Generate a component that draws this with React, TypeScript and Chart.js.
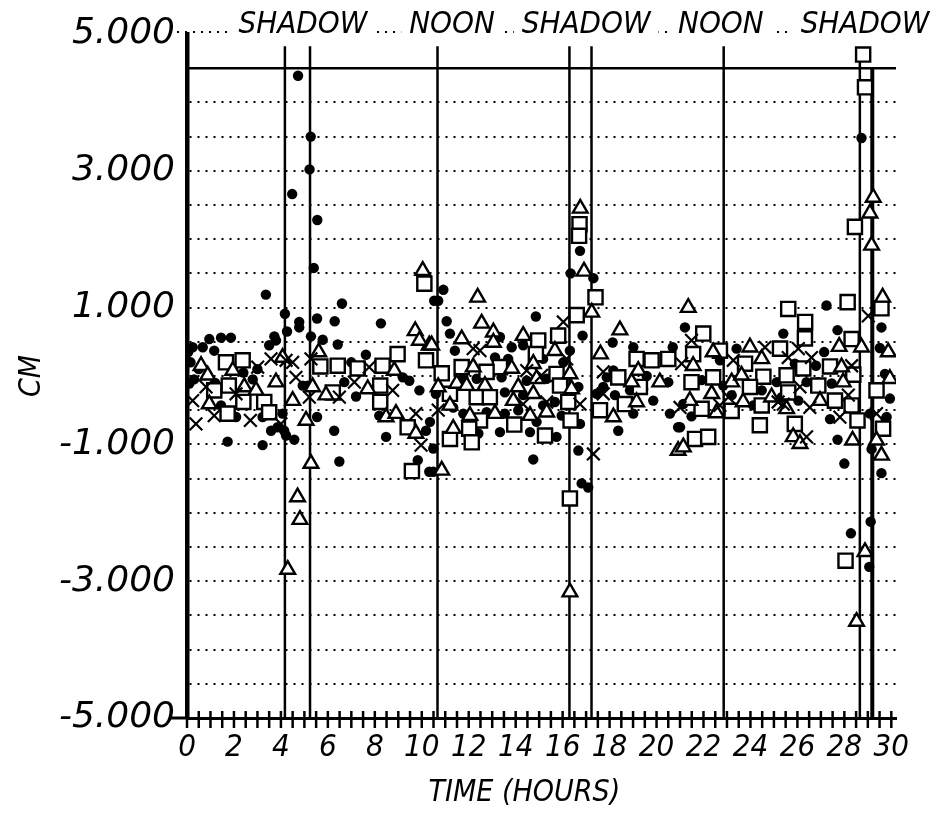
import React, { useEffect, useRef } from 'react';
import { Chart, registerables } from 'chart.js';

Chart.register(...registerables);

const FONT = "'DejaVu Sans Condensed', 'DejaVu Sans', sans-serif";
const WIDE_FONT = "'DejaVu Sans', sans-serif";

// ---- data ----
const yTickValues = [5, 3, 1, -1, -3, -5];
const xTickLabels = [0, 2, 4, 6, 8, 10, 12, 14, 16, 18, 20, 22, 24, 26, 28, 30];
const eventTimes = [4.17, 5.24, 10.67, 16.29, 17.23, 22.86, 28.66, 29.19];
const eventTops = [4.82, 4.82, 4.82, 4.82, 4.82, 4.82, 4.8, 4.5];
const headerLabels = ['SHADOW', 'NOON', 'SHADOW', 'NOON', 'SHADOW'];
const headerTimes = [4.94, 11.29, 17.0, 22.74, 28.88];
const limitLevel = 4.5;

const dots: [number, number][] = [
  [4.73, 4.39], [5.27, 3.5], [5.22, 3.02], [4.48, 2.66], [5.55, 2.28], [5.4, 1.58], [3.36, 1.19], [6.6, 1.06],
  [4.17, 0.91], [5.54, 0.84], [4.78, 0.79], [4.78, 0.71], [6.29, 0.8], [8.26, 0.77], [4.26, 0.65], [3.72, 0.58],
  [3.79, 0.52], [5.28, 0.58], [5.78, 0.53], [6.42, 0.46], [1.87, 0.56], [1.45, 0.56], [0.95, 0.54], [7.62, 0.31],
  [0.24, 0.42], [0.67, 0.42], [1.16, 0.37], [3.5, 0.45], [0.1, -0.11], [1.45, -0.43], [2.09, -0.6], [3.22, -0.6],
  [1.73, -0.96], [3.22, -1.01], [3.58, -0.8], [3.86, -0.75], [4.14, -0.8], [4.22, -0.87], [4.57, -0.93], [4.07, -0.55],
  [5.54, -0.6], [6.27, -0.8], [6.49, -1.25], [5.14, -0.14], [4.93, -0.14], [6.7, -0.09], [8.48, -0.89], [8.19, -0.58],
  [9.19, -0.02], [9.47, -0.07], [9.83, -1.23], [10.32, -1.4], [10.18, -0.8], [10.53, 1.1], [9.9, -0.21],
  [0.05, 0.35], [0.15, 0.2], [0.3, -0.05], [0.5, 0.1], [2.4, 0.05], [2.8, -0.05], [3.0, 0.1], [7.2, -0.3],
  [7.0, 0.2], [8.0, -0.2], [1.2, -0.1],
  [16.74, 1.83], [16.34, 1.5], [17.31, 1.43], [10.92, 1.26], [10.7, 1.1], [14.86, 0.87], [11.06, 0.8], [11.2, 0.62],
  [16.85, 0.59], [18.13, 0.49], [19.01, 0.42], [20.69, 0.42], [11.41, 0.37], [13.33, 0.57], [13.83, 0.42], [14.32, 0.45],
  [16.31, 0.37], [13.12, 0.27], [13.68, 0.25], [15.17, 0.25], [16.03, 0.2], [11.77, -0.02], [12.34, -0.04], [13.4, -0.02],
  [14.47, -0.07], [15.32, -0.04], [17.88, -0.02], [18.16, 0.08], [19.58, 0], [20.5, -0.09], [10.6, -0.26], [13.54, -0.24],
  [14.32, -0.28], [15.67, -0.38], [16.67, -0.16], [17.45, -0.26], [17.73, -0.16], [18.23, -0.28], [18.87, -0.21], [19.43, -0.19],
  [19.86, -0.36], [11.34, -0.46], [11.77, -0.55], [12.76, -0.53], [13.54, -0.55], [14.11, -0.5], [14.89, -0.67], [15.17, -0.43],
  [15.96, -0.58], [19.01, -0.55], [20.57, -0.55], [10.35, -0.67], [12.41, -0.84], [13.33, -0.82], [14.61, -0.82], [15.74, -0.89],
  [16.74, -0.7], [18.37, -0.8], [20.92, -0.75], [10.49, -1.06], [14.75, -1.22], [16.67, -1.09], [10.49, -1.4], [16.81, -1.57],
  [17.09, -1.63],
  [27.24, 1.03], [21.21, 0.71], [25.4, 0.62], [27.71, 0.67], [23.41, 0.4], [27.14, 0.35], [29.51, 0.41], [29.58, 0.71],
  [25.89, 0.18], [26.79, 0.15], [22.7, 0.23], [21.92, -0.06], [22.84, -0.14], [29.73, 0.03], [24.48, -0.21], [25.12, -0.09],
  [26.39, -0.09], [26.89, -0.09], [27.46, -0.11], [23.2, -0.28], [21.14, -0.41], [25.33, -0.31], [26.04, -0.36], [29.94, -0.33],
  [21.49, -0.59], [21.0, -0.75], [27.39, -0.63], [29.09, -0.55], [29.8, -0.6], [27.71, -0.93], [29.16, -1.07], [28.0, -1.28],
  [29.58, -1.42], [24.12, -0.43],
  [28.73, 3.48], [29.12, -2.13], [28.28, -2.3], [29.06, -2.79], [29.76, -0.63],
];

const squares: [number, number][] = [
  [1.66, 0.2], [2.37, 0.23], [1.16, -0.21], [1.78, -0.14], [2.4, -0.38], [3.29, -0.38], [1.73, -0.55], [3.5, -0.53],
  [5.68, 0.14], [6.42, 0.15], [7.27, 0.11], [8.33, 0.15], [8.97, 0.32], [6.21, -0.24], [8.23, -0.14], [8.23, -0.38],
  [9.4, -0.75], [10.11, 1.35], [10.18, 0.23], [9.58, -1.39],
  [16.72, 2.22], [16.7, 2.05], [17.4, 1.15], [16.6, 0.89], [15.81, 0.59], [14.96, 0.52], [14.86, 0.32], [13.33, 0.13],
  [12.76, 0.06], [11.7, 0.13], [10.85, 0.04], [15.74, 0.03], [15.89, -0.14], [12.34, -0.31], [12.9, -0.31], [11.2, -0.26],
  [16.24, -0.38], [16.34, -0.65], [17.59, -0.5], [18.65, -0.41], [19.29, -0.16], [18.37, -0.02], [19.15, 0.25], [19.79, 0.23],
  [20.5, 0.25], [12.48, -0.65], [12.02, -0.77], [11.2, -0.92], [12.13, -0.97], [13.94, -0.71], [15.25, -0.87], [16.31, -1.79],
  [25.61, 0.98], [28.14, 1.08], [26.33, 0.79], [26.32, 0.55], [21.99, 0.62], [28.31, 0.54], [29.58, 0.99], [22.7, 0.37],
  [25.26, 0.4], [21.56, 0.32], [23.77, 0.18], [26.25, 0.11], [27.39, 0.14], [28.38, 0.02], [21.49, -0.09], [22.41, -0.02],
  [24.55, -0.01], [25.54, 0.01], [26.89, -0.14], [23.98, -0.16], [29.37, -0.21], [25.61, -0.24], [27.6, -0.36], [28.31, -0.43],
  [21.92, -0.48], [23.2, -0.51], [24.48, -0.43], [28.56, -0.65], [29.65, -0.77], [24.4, -0.72], [25.89, -0.7], [21.64, -0.92],
  [22.2, -0.89],
  [28.8, 4.7], [28.88, 4.22], [28.45, 2.18], [28.05, -2.7],
];

const triangles: [number, number][] = [
  [10.04, 1.54], [9.72, 0.66], [10.32, 0.45], [9.9, 0.52], [5.61, 0.35], [4.07, 0.27], [0.6, 0.15], [0.88, 0.01],
  [1.95, 0.08], [2.44, -0.16], [2.94, -0.21], [0.95, -0.41], [4.5, -0.36], [3.79, -0.09], [5.35, -0.16], [5.92, -0.28],
  [5.07, -0.65], [7.7, -0.19], [8.48, -0.6], [8.9, -0.55], [8.83, 0.08], [9.75, -0.84], [5.28, -1.28], [4.71, -1.77],
  [4.81, -2.1], [4.29, -2.83],
  [16.75, 2.45], [16.91, 1.53], [12.38, 1.15], [12.55, 0.77], [18.44, 0.67], [13.05, 0.64], [13.05, 0.49], [11.7, 0.54],
  [14.32, 0.59], [10.42, 0.45], [17.24, 0.93], [17.61, 0.32], [15.67, 0.37], [12.19, 0.13], [11.49, -0.11], [11.91, -0.14],
  [13.83, 0.11], [14.75, 0.18], [14.89, -0.04], [16.31, 0.03], [19.22, 0.08], [18.94, -0.09], [20.14, -0.09], [10.7, -0.16],
  [14.11, -0.16], [12.69, -0.14], [13.9, -0.36], [14.75, -0.26], [16.38, -0.19], [11.2, -0.43], [13.12, -0.55], [12.05, -0.58],
  [14.61, -0.58], [15.32, -0.53], [18.16, -0.6], [19.15, -0.38], [11.34, -0.77], [10.85, -1.38], [20.92, -1.09], [16.31, -3.16],
  [21.35, 1.0], [29.63, 1.15], [23.98, 0.42], [24.48, 0.25], [27.78, 0.43], [28.73, 0.42], [29.87, 0.35], [29.94, -0.04],
  [21.56, 0.15], [22.41, 0.35], [27.88, 0.13], [27.95, -0.09], [23.2, -0.09], [23.62, 0.01], [22.35, -0.26], [23.69, -0.38],
  [24.9, -0.31], [25.54, -0.48], [26.96, -0.36], [21.42, -0.36], [22.55, -0.54], [25.82, -0.89], [26.11, -0.99], [28.35, -0.94],
  [29.37, -0.94], [29.58, -1.16], [21.14, -1.04],
  [29.23, 2.61], [29.09, 2.38], [29.16, 1.91], [28.88, -2.57], [28.52, -3.59],
];

const crosses: [number, number][] = [
  [0.38, -0.7], [1.16, -0.58], [2.7, -0.65], [0.24, -0.36], [0.81, -0.16], [3.58, 0.25], [3.01, 0.13], [4.22, 0.23],
  [4.5, 0.2], [5.28, 0.25], [4.64, -0.02], [4.0, -0.7], [5.21, -0.31], [6.49, -0.31], [7.13, -0.09], [7.76, 0.13],
  [8.76, -0.21], [9.75, -0.55], [9.97, -1.01], [2.09, -0.26],
  [12.48, 0.37], [12.19, 0.4], [16.03, 0.79], [16.17, 0.25], [17.73, 0.06], [14.47, 0.08], [15.1, 0.01], [10.7, -0.5],
  [14.32, -0.41], [15.32, -0.38], [16.74, -0.41], [17.73, -0.26], [17.31, -1.14],
  [29.02, 0.88], [21.49, 0.52], [24.62, 0.42], [26.04, 0.4], [25.61, 0.27], [26.6, 0.27], [28.31, 0.15], [23.27, 0.23],
  [21.07, 0.18], [23.06, -0.31], [25.18, -0.38], [25.4, -0.41], [26.53, -0.46], [26.11, -0.16], [28.17, -0.28], [27.81, -0.6],
  [29.37, -0.55], [26.39, -0.89], [21.0, -0.46], [22.7, -0.43],
];

const X_MIN = 0;
const X_MAX = 30.2;
const Y_MIN = -5;
const Y_MAX = 5;

const isNear = (v: number, t: number) => Math.abs(v - t) < 1e-6;

const overlay = {
  id: 'overlay',
  afterDraw(chart: any) {
    const { ctx } = chart;
    const xs = chart.scales.x;
    const ys = chart.scales.y;
    const bottom = ys.getPixelForValue(Y_MIN);
    ctx.save();
    ctx.strokeStyle = '#000';
    ctx.lineCap = 'butt';
    // extend x axis a little left
    ctx.lineWidth = 3;
    ctx.beginPath();
    ctx.moveTo(xs.left - 16, bottom);
    ctx.lineTo(xs.left, bottom);
    ctx.stroke();
    // crossing tick marks every half hour
    ctx.lineWidth = 2.5;
    xs.ticks.forEach((t: any) => {
      const v = t.value;
      if (v > 30 + 1e-6) return;
      if (!isNear(v * 2, Math.round(v * 2))) return;
      const px = xs.getPixelForValue(v);
      ctx.beginPath();
      ctx.moveTo(px, bottom - 7);
      ctx.lineTo(px, bottom + 10);
      ctx.stroke();
    });
    // top dotted line with headers
    const y5 = ys.getPixelForValue(Y_MAX);
    ctx.setLineDash([2, 6]);
    ctx.lineWidth = 2;
    ctx.beginPath();
    ctx.moveTo(xs.left - 10, y5 - 2);
    ctx.lineTo(xs.right, y5 - 2);
    ctx.stroke();
    ctx.setLineDash([]);
    ctx.font = `italic 31px ${FONT}`;
    ctx.textAlign = 'center';
    ctx.textBaseline = 'alphabetic';
    headerLabels.forEach((lab, i) => {
      const cx = xs.getPixelForValue(headerTimes[i]);
      const w = ctx.measureText(lab).width;
      ctx.fillStyle = '#fff';
      ctx.fillRect(cx - w / 2 - 8, y5 - 30, w + 16, 30);
      ctx.fillStyle = '#000';
      ctx.fillText(lab, cx, y5 - 1);
    });
    ctx.restore();
  },
};

export default function App() {
  const ref = useRef<HTMLCanvasElement>(null);
  useEffect(() => {
    if (!ref.current) return;
    const pts = (a: [number, number][]) => a.map(([x, y]) => ({ x, y }));
    const eventSets = eventTimes.map((t, i) => ({
      data: [{ x: t, y: Y_MIN }, { x: t, y: eventTops[i] }],
      showLine: true,
      borderColor: '#000',
      borderWidth: i === eventTimes.length - 1 ? 4 : 2.5,
      pointRadius: 0,
      order: 10,
    }));
    const chart = new Chart(ref.current, {
      type: 'scatter',
      data: {
        datasets: [
          ...eventSets,
          {
            data: [{ x: X_MIN, y: limitLevel }, { x: X_MAX, y: limitLevel }],
            showLine: true,
            borderColor: '#000',
            borderWidth: 2.5,
            pointRadius: 0,
            order: 10,
          },
          {
            data: pts(dots),
            pointStyle: 'circle',
            pointRadius: 5.2,
            backgroundColor: '#000',
            borderColor: '#000',
            borderWidth: 0,
            order: 4,
          },
          {
            data: pts(squares),
            pointStyle: 'rect',
            pointRadius: 10,
            backgroundColor: '#fff',
            borderColor: '#000',
            borderWidth: 2.4,
            order: 3,
          },
          {
            data: pts(triangles),
            pointStyle: 'triangle',
            pointRadius: 8.5,
            backgroundColor: '#fff',
            borderColor: '#000',
            borderWidth: 2.4,
            order: 2,
          },
          {
            data: pts(crosses),
            pointStyle: 'crossRot',
            pointRadius: 9,
            backgroundColor: '#000',
            borderColor: '#000',
            borderWidth: 2.2,
            order: 1,
          },
        ] as any,
      },
      options: {
        responsive: false,
        animation: false,
        events: [],
        layout: { padding: { left: 0, right: 36, top: 26, bottom: 0 } },
        plugins: { legend: { display: false }, tooltip: { enabled: false } },
        scales: {
          x: {
            type: 'linear',
            min: X_MIN,
            max: X_MAX,
            afterFit: (s: any) => {
              s.height = 100;
              s.paddingLeft = 0;
              s.paddingRight = 0;
            },
            ticks: {
              stepSize: 0.5,
              includeBounds: false,
              autoSkip: false,
              maxRotation: 0,
              minRotation: 0,
              padding: 11,
              color: '#000',
              font: { family: FONT, size: 31, style: 'italic' },
              callback: (v: any) => (xTickLabels.some((t) => isNear(t, Number(v))) ? String(Math.round(Number(v))) : ''),
            },
            grid: { display: false, drawTicks: false },
            border: { display: true, color: '#000', width: 3 },
            title: {
              display: true,
              text: 'TIME (HOURS)    ',
              color: '#000',
              font: { family: FONT, size: 30, style: 'italic' },
              padding: { top: 0, bottom: 7 },
            },
          },
          y: {
            type: 'linear',
            min: Y_MIN,
            max: Y_MAX,
            afterFit: (s: any) => {
              s.width = 179;
              s.paddingTop = 0;
              s.paddingBottom = 0;
            },
            ticks: {
              stepSize: 0.5,
              autoSkip: false,
              padding: 12,
              color: '#000',
              font: { family: WIDE_FONT, size: 36, style: 'italic' },
              callback: (v: any) => (yTickValues.some((t) => isNear(t, Number(v))) ? Number(v).toFixed(3) : ''),
            },
            grid: {
              drawTicks: false,
              lineWidth: 2,
              color: (c: any) => {
                const v = c.tick ? c.tick.value : 0;
                return isNear(v, Y_MIN) || isNear(v, Y_MAX) ? 'rgba(0,0,0,0)' : '#000';
              },
            },
            border: { display: true, color: '#000', width: 4.5, dash: [2, 6] },
            title: {
              display: true,
              text: 'CM',
              color: '#000',
              font: { family: FONT, size: 30, style: 'italic' },
              padding: { top: 6, bottom: 0 },
            },
          },
        },
      } as any,
      plugins: [overlay],
    });
    return () => chart.destroy();
  }, []);
  return (
    <div style={{ width: 924, height: 810 }}>
      <canvas ref={ref} width={924} height={810} style={{ display: 'block' }} />
    </div>
  );
}
